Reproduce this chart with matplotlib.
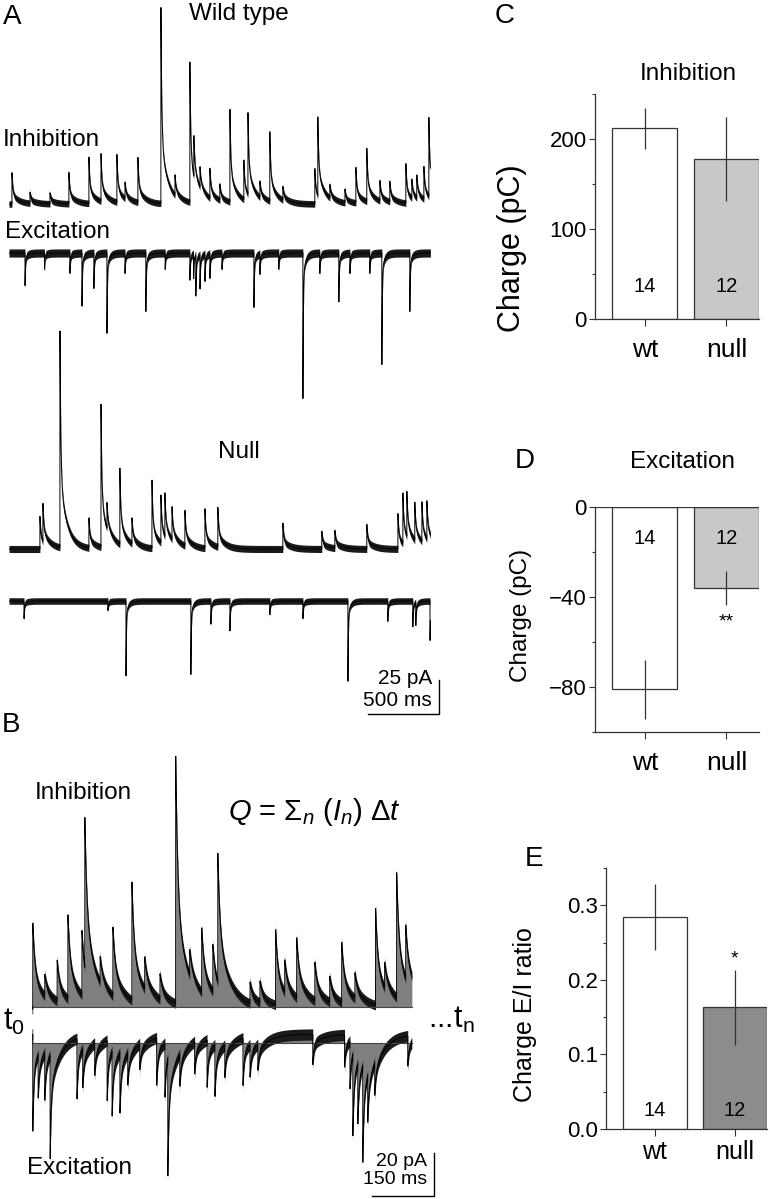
import matplotlib
matplotlib.use("Agg")
import matplotlib.pyplot as plt
import numpy as np

plt.rcParams['font.family'] = ['Liberation Sans', 'DejaVu Sans']
plt.rcParams['mathtext.fontset'] = 'custom'
plt.rcParams['mathtext.rm'] = 'Liberation Sans'
plt.rcParams['mathtext.it'] = 'Liberation Sans:italic'

W, H = 770, 1199

# ---------- data : bar panels ----------
groups = ['wt', 'null']
n_cells = ['14', '12']
inh_charge = [212, 178]
inh_err = [23, 47]
exc_charge = [-81, -36]
exc_err = [13, 7.5]
ei_ratio = [0.284, 0.163]
ei_err = [0.044, 0.05]

# ---------- data : panel A traces (event time ms, amplitude pA) ----------
wt_inh_t = [21, 148, 289, 422, 563, 648, 760, 817, 908, 1070, 1169, 1274, 1302, 1345, 1415,
            1485, 1556, 1654, 1683, 1767, 1837, 1929, 2154, 2175, 2260, 2366, 2443, 2520,
            2612, 2682, 2795, 2837, 2872, 2922, 2957]
wt_inh_a = [23, 8, 8, 23, 34, 35, 35, 12, 33, 144, 15, 103, 30, 15, 22,
            12, 68, 29, 60, 12, 51, 10, 26, 58, 10, 10, 26, 39,
            15, 15, 29, 14, 17, 24, 58]
wt_exc_t = [113, 250, 429, 514, 598, 690, 817, 964, 1100, 1274, 1300, 1316, 1345, 1380, 1415,
            1500, 1725, 1767, 1900, 2070, 2189, 2323, 2401, 2541, 2626, 2823]
wt_exc_a = [-24, -12, -15, -39, -26, -59, -15, -43, -12, -20, -18, -30, -25, -20, -18,
            -12, -40, -15, -12, -107, -15, -36, -15, -15, -82, -43]
null_inh_t = [218, 239, 359, 563, 648, 690, 781, 866, 1007, 1070, 1098, 1148, 1239, 1380,
              1471, 1929, 2203, 2295, 2520, 2739, 2774, 2802, 2858, 2908, 2943]
null_inh_a = [24, 28, 159, 22, 105, 19, 56, 19, 50, 35, 32, 24, 26, 29,
              29, 19, 13, 13, 18, 26, 37, 33, 28, 29, 28]
null_exc_t = [106, 697, 824, 1281, 1422, 1556, 1837, 2070, 2387, 2668, 2844, 2865, 2965]
null_exc_a = [-13, -7, -55, -54, -17, -22, -10, -13, -59, -15, -19, -17, -29]

# ---------- data : panel B traces ----------
b_inh_t = [2, 31, 61, 87, 121, 128, 165, 196, 242, 273, 310, 348, 382, 411, 438, 450,
           528, 552, 590, 612, 641, 685, 721, 750, 782, 832, 854, 883, 905]
b_inh_a = [40, 10, 19, 39, 30, 70, 12, 32, 55, 15, 12, 115, 12, 30, 22, 60,
           10, 10, 35, 15, 28, 18, 12, 28, 12, 45, 12, 58, 25]
b_exc_t = [2, 15, 31, 44, 109, 123, 152, 182, 194, 213, 232, 261, 302, 322, 329, 358,
           394, 424, 443, 467, 511, 528, 547, 680, 757, 770, 777, 789, 801, 813, 830, 910]
b_exc_a = [-45, -20, -22, -48, -28, -18, -15, -28, -30, -28, -15, -12, -22, -25, -55, -15,
           -15, -22, -24, -15, -22, -15, -12, -14, -15, -22, -38, -28, -45, -22, -15, -14]


def events(t, ev_t, ev_a, tau_fast, tau_slow, w_fast):
    y = np.zeros_like(t)
    for t0, a in zip(ev_t, ev_a):
        s = t - t0
        m = s >= 0
        y[m] += a * (w_fast * np.exp(-s[m] / tau_fast) + (1 - w_fast) * np.exp(-s[m] / tau_slow))
    return y


def px_axes(fig, left, top, right, bottom):
    return fig.add_axes([left / W, 1 - bottom / H, (right - left) / W, (bottom - top) / H])


def ftext(fig, x, y, s, **kw):
    fig.text(x / W, 1 - y / H, s, **kw)


def draw_trace(ax, t, y, band):
    # recording noise shown as an envelope band around the trace (style only)
    ax.fill_between(t, y - band, y + band, color='#1a1a1a', lw=0)
    ax.plot(t, y, color='black', lw=0.7)


fig = plt.figure(figsize=(W / 100, H / 100), dpi=100)

# ---------- panel A ----------
a_px_ms, a_px_pa = 0.142, 1.36
axA = px_axes(fig, 9, 0, 445, 720)
axA.set_xlim(0, 436 / a_px_ms)
axA.set_ylim(0, 720 / a_px_pa)
axA.axis('off')
tA = np.arange(0, 2968, 0.5)
lvl = lambda ypx: (720 - ypx) / a_px_pa
draw_trace(axA, tA, lvl(204) + events(tA, wt_inh_t, wt_inh_a, 6, 50, 0.68), 2.4)
draw_trace(axA, tA, lvl(253) + events(tA, wt_exc_t, wt_exc_a, 3, 20, 0.85), 3.0)
draw_trace(axA, tA, lvl(549) + events(tA, null_inh_t, null_inh_a, 6, 50, 0.68), 2.6)
draw_trace(axA, tA, lvl(601) + events(tA, null_exc_t, null_exc_a, 3, 20, 0.85), 2.4)
sbx, sby = (439 - 9) / a_px_ms, lvl(714)
axA.plot([sbx - 500, sbx, sbx], [sby, sby, sby + 25], color='black', lw=1)

ftext(fig, 3, 17, 'A', fontsize=20, va='center')
ftext(fig, 239, 14, 'Wild type', fontsize=17.5, ha='center', va='center')
ftext(fig, 3, 140, 'Inhibition', fontsize=17.5, va='center')
ftext(fig, 5, 232, 'Excitation', fontsize=17.5, va='center')
ftext(fig, 239, 452, 'Null', fontsize=17.5, ha='center', va='center')
ftext(fig, 432, 678, '25 pA', fontsize=15, ha='right', va='center')
ftext(fig, 432, 700, '500 ms', fontsize=15, ha='right', va='center')

# ---------- panel B ----------
b_px_ms, b_px_pa = 0.413, 2.15
axB = px_axes(fig, 32, 700, 445, 1199)
axB.set_xlim(0, 413 / b_px_ms)
axB.set_ylim(0, 499 / b_px_pa)
axB.axis('off')
tB = np.arange(0, 920, 0.25)
lvlB = lambda ypx: (1199 - ypx) / b_px_pa
z_inh, z_exc = lvlB(1007), lvlB(1043)
y_inh = z_inh - 1 + events(tB, b_inh_t, b_inh_a, 5, 30, 0.6)
y_exc = z_exc + 4 + events(tB, b_exc_t, b_exc_a, 2.5, 25, 0.65)
axB.fill_between(tB, z_inh, y_inh, color='#7f7f7f', lw=0)
axB.fill_between(tB, z_exc, y_exc, color='#7f7f7f', lw=0)
axB.plot([tB[0], tB[-1]], [z_inh, z_inh], color='#444444', lw=0.8)
axB.plot([tB[0], tB[-1]], [z_exc, z_exc], color='#444444', lw=0.8)
draw_trace(axB, tB, y_inh, 2.2)
draw_trace(axB, tB, y_exc, 2.6)
sbx, sby = (434 - 32) / b_px_ms, lvlB(1196)
axB.plot([sbx - 150, sbx, sbx], [sby, sby, sby + 20], color='black', lw=1)

ftext(fig, 2, 725, 'B', fontsize=20, va='center')
ftext(fig, 35, 793, 'Inhibition', fontsize=17.5, va='center')
ftext(fig, 27, 1168, 'Excitation', fontsize=17.5, va='center')
ftext(fig, 228, 812, r'$Q$ = $\Sigma_n$ ($I_n$) $\Delta t$', fontsize=21, va='center')
ftext(fig, 3, 1022, r't$_{\rm 0}$', fontsize=22, va='center')
ftext(fig, 428, 1020, r'...t$_{\rm n}$', fontsize=22, va='center')
ftext(fig, 427, 1161, '20 pA', fontsize=14, ha='right', va='center')
ftext(fig, 427, 1179, '150 ms', fontsize=14, ha='right', va='center')


# ---------- bar panels ----------
def bar_panel(ax, vals, errs, colors, ylim, yticks, minor, ylabel, lab_xy, lab_fs, xt_fs, xt_pad):
    x = np.arange(len(groups))
    ax.bar(x, vals, width=0.8, color=colors, edgecolor='#333333', lw=0.9)
    ax.errorbar(x, vals, yerr=errs, fmt='none', ecolor='#333333', elinewidth=0.9, capsize=0)
    ax.set_xlim(-0.61, 1.4)
    ax.set_ylim(*ylim)
    ax.set_yticks(yticks)
    ax.set_yticks(minor, minor=True)
    ax.set_xticks(x)
    ax.set_xticklabels(groups, fontsize=xt_fs)
    for s in ['top', 'right']:
        ax.spines[s].set_visible(False)
    for s in ['left', 'bottom']:
        ax.spines[s].set_linewidth(0.9)
        ax.spines[s].set_color('#333333')
    ax.tick_params(axis='y', labelsize=16, length=4, width=0.8, color='#333333', pad=2)
    ax.tick_params(axis='y', which='minor', length=2.5, width=0.8, color='#333333')
    ax.tick_params(axis='x', length=5, width=0.8, color='#333333', pad=xt_pad)
    ax.set_ylabel(ylabel, fontsize=lab_fs)
    ax.yaxis.set_label_coords(*lab_xy)
    return x


axC = px_axes(fig, 595, 94, 759, 319)
x = bar_panel(axC, inh_charge, inh_err, ['white', '#c8c8c8'], (0, 250), [0, 100, 200],
              [50, 150, 250], 'Charge (pC)', (-0.415, 0.315), 22, 19, 9)
for xi, n in zip(x, n_cells):
    axC.text(xi, 36, n, fontsize=14.5, ha='center', va='center')
ftext(fig, 688, 74, 'Inhibition', fontsize=17.5, ha='center', va='center')
ftext(fig, 495, 16, 'C', fontsize=20, va='center')

axD = px_axes(fig, 595, 507, 759, 732)
x = bar_panel(axD, exc_charge, exc_err, ['white', '#c8c8c8'], (-100, 0), [0, -40, -80],
              [-20, -60, -100], 'Charge (pC)', (-0.384, 0.52), 17.5, 19, 9)
axD.axhline(0, color='#333333', lw=0.9)
axD.yaxis.set_major_formatter(matplotlib.ticker.FuncFormatter(lambda v, p: '%d' % v if v == 0 else '\u2212%d' % -v))
for xi, n in zip(x, n_cells):
    axD.text(xi, -14, n, fontsize=14.5, ha='center', va='center')
axD.text(x[1], -51, '**', fontsize=14, ha='center', va='center')
ftext(fig, 683, 462, 'Excitation', fontsize=17.5, ha='center', va='center')
ftext(fig, 515, 461, 'D', fontsize=20, va='center')

axE = px_axes(fig, 606, 868, 767, 1129)
x = bar_panel(axE, ei_ratio, ei_err, ['white', '#8c8c8c'], (0, 0.35), [0.0, 0.1, 0.2, 0.3],
              [0.05, 0.15, 0.25, 0.35], 'Charge E/I ratio', (-0.43, 0.44), 18, 18, 3)
axE.set_yticklabels(['0.0', '0.1', '0.2', '0.3'])
for xi, n in zip(x, n_cells):
    axE.text(xi, 0.025, n, fontsize=14.5, ha='center', va='center')
axE.text(x[1], 0.228, '*', fontsize=14, ha='center', va='center')
ftext(fig, 525, 859, 'E', fontsize=20, va='center')

fig.savefig('out.png', dpi=100)
